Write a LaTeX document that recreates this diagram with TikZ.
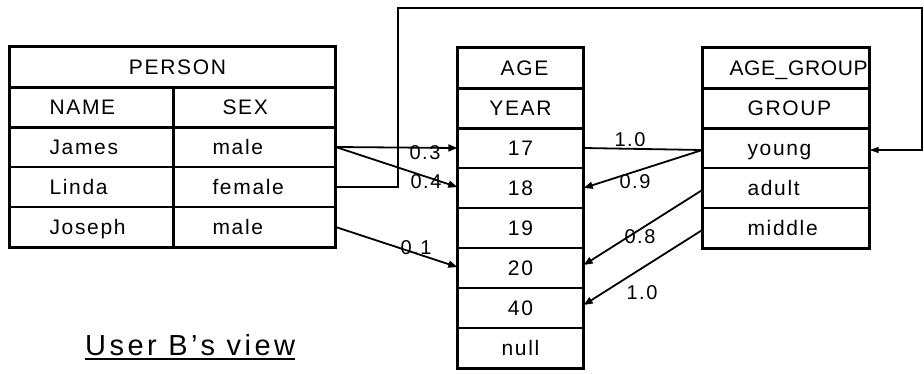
\documentclass[tikz,border=0pt]{standalone}
\usepackage{fontspec}
\setmainfont[LetterSpace=8]{Liberation Sans}
\usetikzlibrary{arrows.meta}
\begin{document}
\begin{tikzpicture}[x=1pt,y=-1pt,
  cell/.style={draw, line width=1.4pt, rectangle, inner sep=0pt, minimum height=40pt, font=\fontsize{21}{23}\selectfont},
  ltext/.style 2 args={label={[anchor=base west, xshift=#1, yshift=-7.5pt, inner sep=0pt, font=\fontsize{21}{23}\selectfont]west:#2}},
  frame/.style={line width=2.8pt},
  conn/.style={line width=1.8pt, -{Triangle[length=9pt,width=7pt]}},
  plain/.style={line width=1.8pt},
  loop/.style={line width=1.1pt},
  wt/.style={font=\fontsize{20}{22}\selectfont, inner sep=0pt}
]
\useasboundingbox (0,0) rectangle (924,373);
% ---------- PERSON ----------
\node[cell, minimum width=325pt] (person) at (172.5,67) {\hspace*{10pt}PERSON};
\node[cell, minimum width=163pt, ltext={40pt}{NAME}] (namecol) at (91.5,107) {};
\node[cell, minimum width=162pt, ltext={50pt}{SEX}] (sexcol) at (254,107) {};
\node[cell, minimum width=163pt, ltext={40pt}{James}] (james) at (91.5,147) {};
\node[cell, minimum width=162pt, ltext={40pt}{male}] (male1) at (254,147) {};
\node[cell, minimum width=163pt, ltext={40pt}{Linda}] (linda) at (91.5,187) {};
\node[cell, minimum width=162pt, ltext={40pt}{female}] (female) at (254,187) {};
\node[cell, minimum width=163pt, ltext={40pt}{Joseph}] (joseph) at (91.5,227) {};
\node[cell, minimum width=162pt, ltext={40pt}{male}] (male2) at (254,227) {};
\draw[frame] (person.north west) rectangle (male2.south east);
\draw[frame] (person.south west) -- (person.south east);
\draw[frame] (namecol.south west) -- (sexcol.south east);
\draw[frame] (namecol.north east) -- (joseph.south east);
% ---------- AGE ----------
\node[cell, minimum width=125pt] (age) at (520.5,68) {\hspace*{8pt}AGE};
\node[cell, minimum width=125pt] (year) at (520.5,108) {YEAR};
\node[cell, minimum width=125pt] (y17) at (520.5,148) {17};
\node[cell, minimum width=125pt] (y18) at (520.5,188) {18};
\node[cell, minimum width=125pt] (y19) at (520.5,228) {19};
\node[cell, minimum width=125pt] (y20) at (520.5,268) {20};
\node[cell, minimum width=125pt] (y40) at (520.5,308) {40};
\node[cell, minimum width=125pt] (ynull) at (520.5,348) {null};
\draw[frame] (age.north west) rectangle (ynull.south east);
\draw[frame] (age.south west) -- (age.south east);
\draw[frame] (year.south west) -- (year.south east);
% ---------- AGE_GROUP ----------
\node[cell, minimum width=166pt, ltext={27pt}{\addfontfeature{LetterSpace=3}AGE\_GROUP}] (agegroup) at (786,68) {};
\node[cell, minimum width=166pt, ltext={45pt}{GROUP}] (group) at (786,108) {};
\node[cell, minimum width=166pt, ltext={45pt}{young}] (young) at (786,148) {};
\node[cell, minimum width=166pt, ltext={45pt}{adult}] (adult) at (786,188) {};
\node[cell, minimum width=166pt, ltext={45pt}{middle}] (middle) at (786,228) {};
\draw[frame] (agegroup.north west) rectangle (middle.south east);
\draw[frame] (agegroup.south west) -- (agegroup.south east);
\draw[frame] (group.south west) -- (group.south east);
% ---------- connectors PERSON -> AGE ----------
\draw[conn] (male1.east) -- (y17.west);
\draw[conn] (male1.east) -- ([yshift=1pt]y18.west);
\draw[conn] (male2.east) -- ([yshift=1pt]y20.west);
\node[wt] (w03) at (425,153) {0.3};
\node[wt] (w04) at (426,182) {0.4};
\node[wt] (w01) at (416,248) {0.1};
% ---------- loop from Linda to AGE_GROUP ----------
\coordinate (c1) at (398,187);
\coordinate (c2) at (398,8);
\coordinate (c3) at (922,8);
\coordinate (c4) at (922,150);
\draw[loop, -{Triangle[length=9pt,width=6pt]}] (female.east) -- (c1) -- (c2) -- (c3) -- (c4) -- ([yshift=-2pt]young.east);
% ---------- connectors AGE_GROUP -> AGE ----------
\draw[plain] ([yshift=-2pt]young.west) -- (y17.east);
\draw[conn] ([yshift=-2pt]young.west) -- (y18.east);
\draw[conn] ([yshift=-2pt]adult.west) -- ([yshift=3pt]y20.east);
\draw[conn] ([yshift=-2pt]middle.west) -- ([yshift=3pt]y40.east);
\node[wt] (w10a) at (630,140) {1.0};
\node[wt] (w09) at (635,182) {0.9};
\node[wt] (w08) at (640,237) {0.8};
\node[wt] (w10b) at (642,293) {1.0};
% ---------- caption ----------
\node[font=\fontsize{29}{31}\selectfont\addfontfeature{LetterSpace=12}, inner sep=0pt, anchor=base west] (caption) at (85,355) {User B's view};
\draw[line width=1.6pt] (caption.base west) ++(0,-4pt) coordinate (u1) -- (u1 -| caption.base east);
\end{tikzpicture}
\end{document}
